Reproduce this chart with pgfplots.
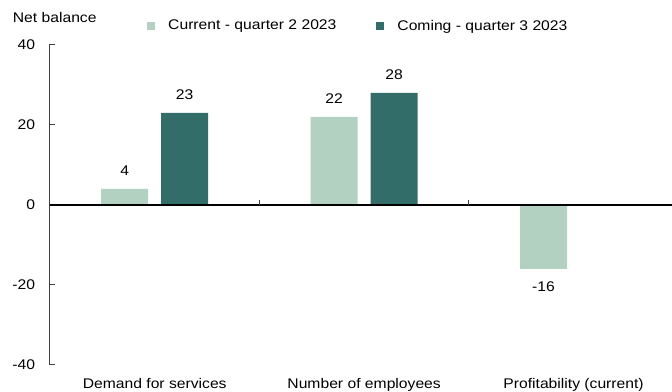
\documentclass[border=0pt]{standalone}
\usepackage{pgfplots}
\pgfplotsset{compat=1.18}
\usepackage{fontspec}
\setmainfont[FakeStretch=1.12]{Liberation Sans}
\definecolor{lightg}{HTML}{B3D1C1}
\definecolor{darkg}{HTML}{336D6A}
\definecolor{axgray}{HTML}{404040}
\begin{document}
\begin{tikzpicture}
\fontsize{14}{16}\selectfont
\begin{axis}[
  name=ax, at={(0,0)}, anchor=south west,
  scale only axis, width=622pt, height=320pt,
  xmin=-0.5, xmax=2.47, ymin=-40, ymax=40,
  ybar=13pt, bar width=47pt,
  axis x line=none,
  axis y line*=left,
  axis line style={axgray, line width=1pt, -},
  ytick={-40,-20,0,20,40},
  yticklabels={-40,-20,0,20,40},
  major tick length=0pt,
  yticklabel style={font=\fontsize{14}{16}\selectfont, xshift=-10pt},
  /pgf/number format/assume math mode=true,
  clip=false,
  nodes near coords,
  every node near coord/.append style={font=\fontsize{14}{16}\selectfont, inner ysep=13pt, text=black},
  legend columns=2,
  legend style={draw=none, fill=none, inner sep=0pt, at={(rel axis cs:0.156,1.059)}, anchor=west,
    font=\fontsize{14}{16}\selectfont,
    /tikz/every odd column/.append style={column sep=11pt},
    /tikz/every even column/.append style={column sep=38pt}},
  legend image code/.code={\fill[#1] (0pt,-4pt) rectangle (8pt,4pt);},
]
\addplot[fill=lightg, draw=none] coordinates {(0,4) (1,22) (2,-16)};
\addlegendentry{Current - quarter 2 2023}
\addplot[fill=darkg, draw=none] coordinates {(0,23) (1,28)};
\addlegendentry{Coming - quarter 3 2023}
\draw[black, line width=1.1pt] (axis cs:-0.5,0) -- (axis cs:2.47,0);
\draw[axgray, line width=1.2pt] (axis cs:0.5,0) -- ([yshift=4.5pt]axis cs:0.5,0);
\draw[axgray, line width=1.2pt] (axis cs:1.5,0) -- ([yshift=4.5pt]axis cs:1.5,0);
\draw[axgray, line width=1pt] ([xshift=-0.5pt]axis cs:-0.5,40) -- ([xshift=5pt]axis cs:-0.5,40);
\draw[axgray, line width=1pt] ([xshift=-0.5pt]axis cs:-0.5,20) -- ([xshift=5pt]axis cs:-0.5,20);
\draw[axgray, line width=1pt] ([xshift=-0.5pt]axis cs:-0.5,-20) -- ([xshift=5pt]axis cs:-0.5,-20);
\draw[axgray, line width=1pt] ([xshift=-0.5pt]axis cs:-0.5,-40) -- ([xshift=5pt]axis cs:-0.5,-40);
\node[anchor=base, inner sep=0pt] at ([yshift=-24pt]axis cs:0,-40) {Demand for services};
\node[anchor=base, inner sep=0pt] at ([yshift=-24pt]axis cs:1,-40) {Number of employees};
\node[anchor=base, inner sep=0pt] at ([yshift=-24pt]axis cs:2,-40) {Profitability (current)};
\end{axis}
\node[anchor=base west, inner sep=0pt] at ([xshift=-37.3pt, yshift=22pt]ax.north west) {Net balance};
\pgfresetboundingbox
\path ([xshift=-50pt, yshift=-27pt]ax.south west) rectangle ([yshift=45pt]ax.north east);
\end{tikzpicture}
\end{document}
